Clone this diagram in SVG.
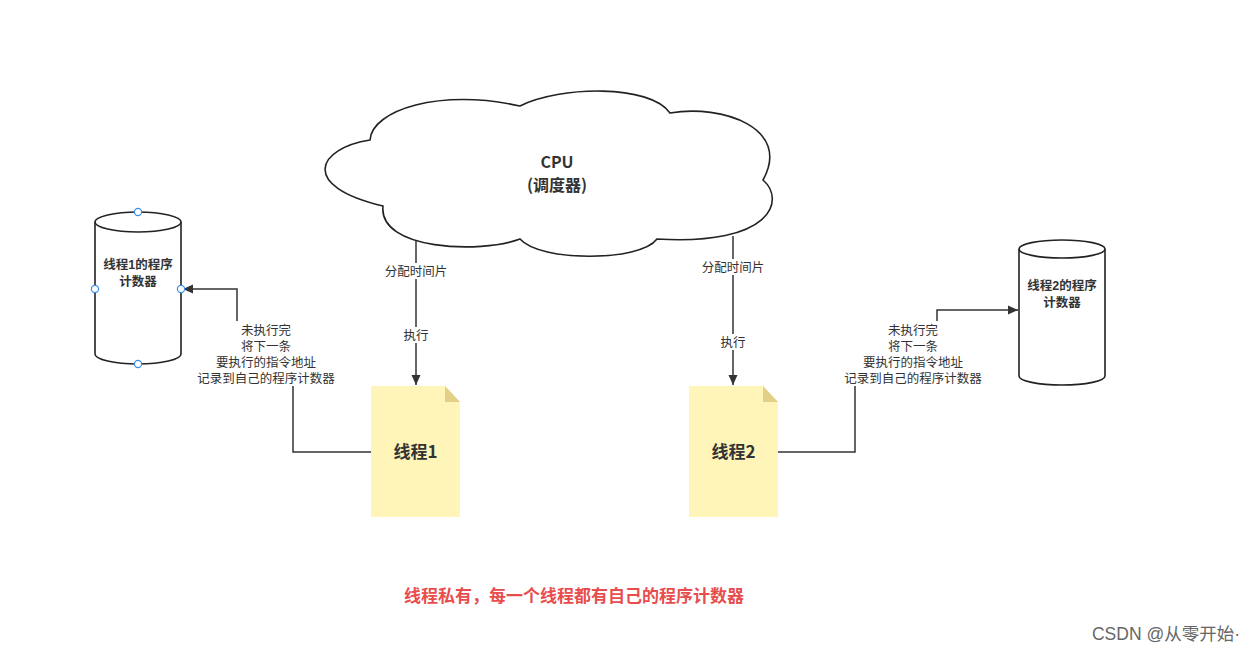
<svg xmlns="http://www.w3.org/2000/svg" width="1256" height="652" viewBox="0 0 1256 652">
<defs>
<style>
.ln{fill:none;stroke:#333;stroke-width:1.5}
.shape{fill:#fff;stroke:#222;stroke-width:1.6}
.t{font-family:"Noto Sans CJK SC","Noto Sans",sans-serif;fill:#333;text-anchor:middle}
.m{font-family:"Liberation Sans","Noto Sans CJK SC",sans-serif}
.lbl{font-size:12.5px}
.note{font-size:12.5px}
.cyl{font-size:12.5px;font-weight:bold}
.doc{fill:#fff5b9}
.fold{fill:#e2cf88}
.hdl{fill:#fff;stroke:#3a8ef0;stroke-width:1.2}
</style>
<marker id="arr" viewBox="0 0 10 10" refX="10" refY="5" markerWidth="10" markerHeight="10" markerUnits="userSpaceOnUse" orient="auto">
<path d="M0,0.5 L10,5 L0,9.5 Z" fill="#333"/>
</marker>
</defs>
<rect width="1256" height="652" fill="#fff"/>
<g id="connectors">
<path class="ln" d="M416,236 L416,385" marker-end="url(#arr)"/>
<rect x="383" y="263" width="66" height="16" fill="#fff"/>
<text class="t lbl" x="416" y="276">分配时间片</text>
<rect x="401" y="327" width="30" height="16" fill="#fff"/>
<text class="t lbl" x="416" y="340">执行</text>
<path class="ln" d="M733,236 L733,385" marker-end="url(#arr)"/>
<rect x="700" y="259" width="66" height="16" fill="#fff"/>
<text class="t lbl" x="733" y="272">分配时间片</text>
<rect x="718" y="334" width="30" height="16" fill="#fff"/>
<text class="t lbl" x="733" y="347">执行</text>
<path class="ln" d="M372,452 L293,452 L293,354 L237,354 L237,289 L183,289" marker-end="url(#arr)"/>
<rect x="192" y="321" width="148" height="65" fill="#fff"/>
<text class="t m note" x="266" y="335">未执行完</text>
<text class="t m note" x="266" y="351">将下一条</text>
<text class="t m note" x="266" y="367">要执行的指令地址</text>
<text class="t m note" x="266" y="383">记录到自己的程序计数器</text>
<path class="ln" d="M778,452 L855,452 L855,354 L937,354 L937,310 L1018,310" marker-end="url(#arr)"/>
<rect x="839" y="321" width="148" height="65" fill="#fff"/>
<text class="t m note" x="913" y="335">未执行完</text>
<text class="t m note" x="913" y="351">将下一条</text>
<text class="t m note" x="913" y="367">要执行的指令地址</text>
<text class="t m note" x="913" y="383">记录到自己的程序计数器</text>
</g>
<g id="cpu">
<path class="shape" d="M370,140 C372,110 440,88 520,106 C560,86 650,84 670,113 C722,104 792,128 763,180 C786,200 772,246 657,239 C640,262 540,262 520,239 C480,254 378,250 383,206 C298,186 318,148 370,140 Z"/>
<text class="t" x="557" y="168" font-size="16" font-weight="bold">CPU</text>
<text class="t" x="557" y="191" font-size="16" font-weight="bold">(调度器)</text>
</g>
<g id="pc1">
<path class="shape" d="M95,222 A43,10 0 0 1 181,222 L181,354 A43,10 0 0 1 95,354 Z"/>
<path class="shape" fill="none" d="M95,222 A43,10 0 0 0 181,222"/>
<text class="t m cyl" x="138" y="269">线程1的程序</text>
<text class="t m cyl" x="138" y="286">计数器</text>
<circle class="hdl" cx="138" cy="212" r="3.6"/>
<circle class="hdl" cx="95" cy="289" r="3.6"/>
<circle class="hdl" cx="181" cy="289" r="3.6"/>
<circle class="hdl" cx="138" cy="364" r="3.6"/>
</g>
<g id="pc2">
<path class="shape" d="M1019,249 A43,9 0 0 1 1105,249 L1105,376 A43,9 0 0 1 1019,376 Z"/>
<path class="shape" fill="none" d="M1019,249 A43,9 0 0 0 1105,249"/>
<text class="t m cyl" x="1062" y="290">线程2的程序</text>
<text class="t m cyl" x="1062" y="307">计数器</text>
</g>
<g id="thread1">
<path class="doc" d="M371,386 L445,386 L460,402 L460,517 L371,517 Z"/>
<path class="fold" d="M445,386 L445,402 L460,402 Z"/>
<text class="t" x="415.5" y="458" font-size="17" font-weight="bold">线程1</text>
</g>
<g id="thread2">
<path class="doc" d="M689,386 L763,386 L778,402 L778,517 L689,517 Z"/>
<path class="fold" d="M763,386 L763,402 L778,402 Z"/>
<text class="t" x="733.5" y="458" font-size="17" font-weight="bold">线程2</text>
</g>
<g id="caption">
<text class="t" x="574" y="602" font-size="17" font-weight="bold" style="fill:#e84d4d">线程私有，每一个线程都有自己的程序计数器</text>
</g>
<g id="watermark">
<text x="1240" y="640" font-size="17.5" style="font-family:'Liberation Sans','Noto Sans CJK SC',sans-serif;fill:#666;text-anchor:end">CSDN @从零开始·</text>
</g>
</svg>
